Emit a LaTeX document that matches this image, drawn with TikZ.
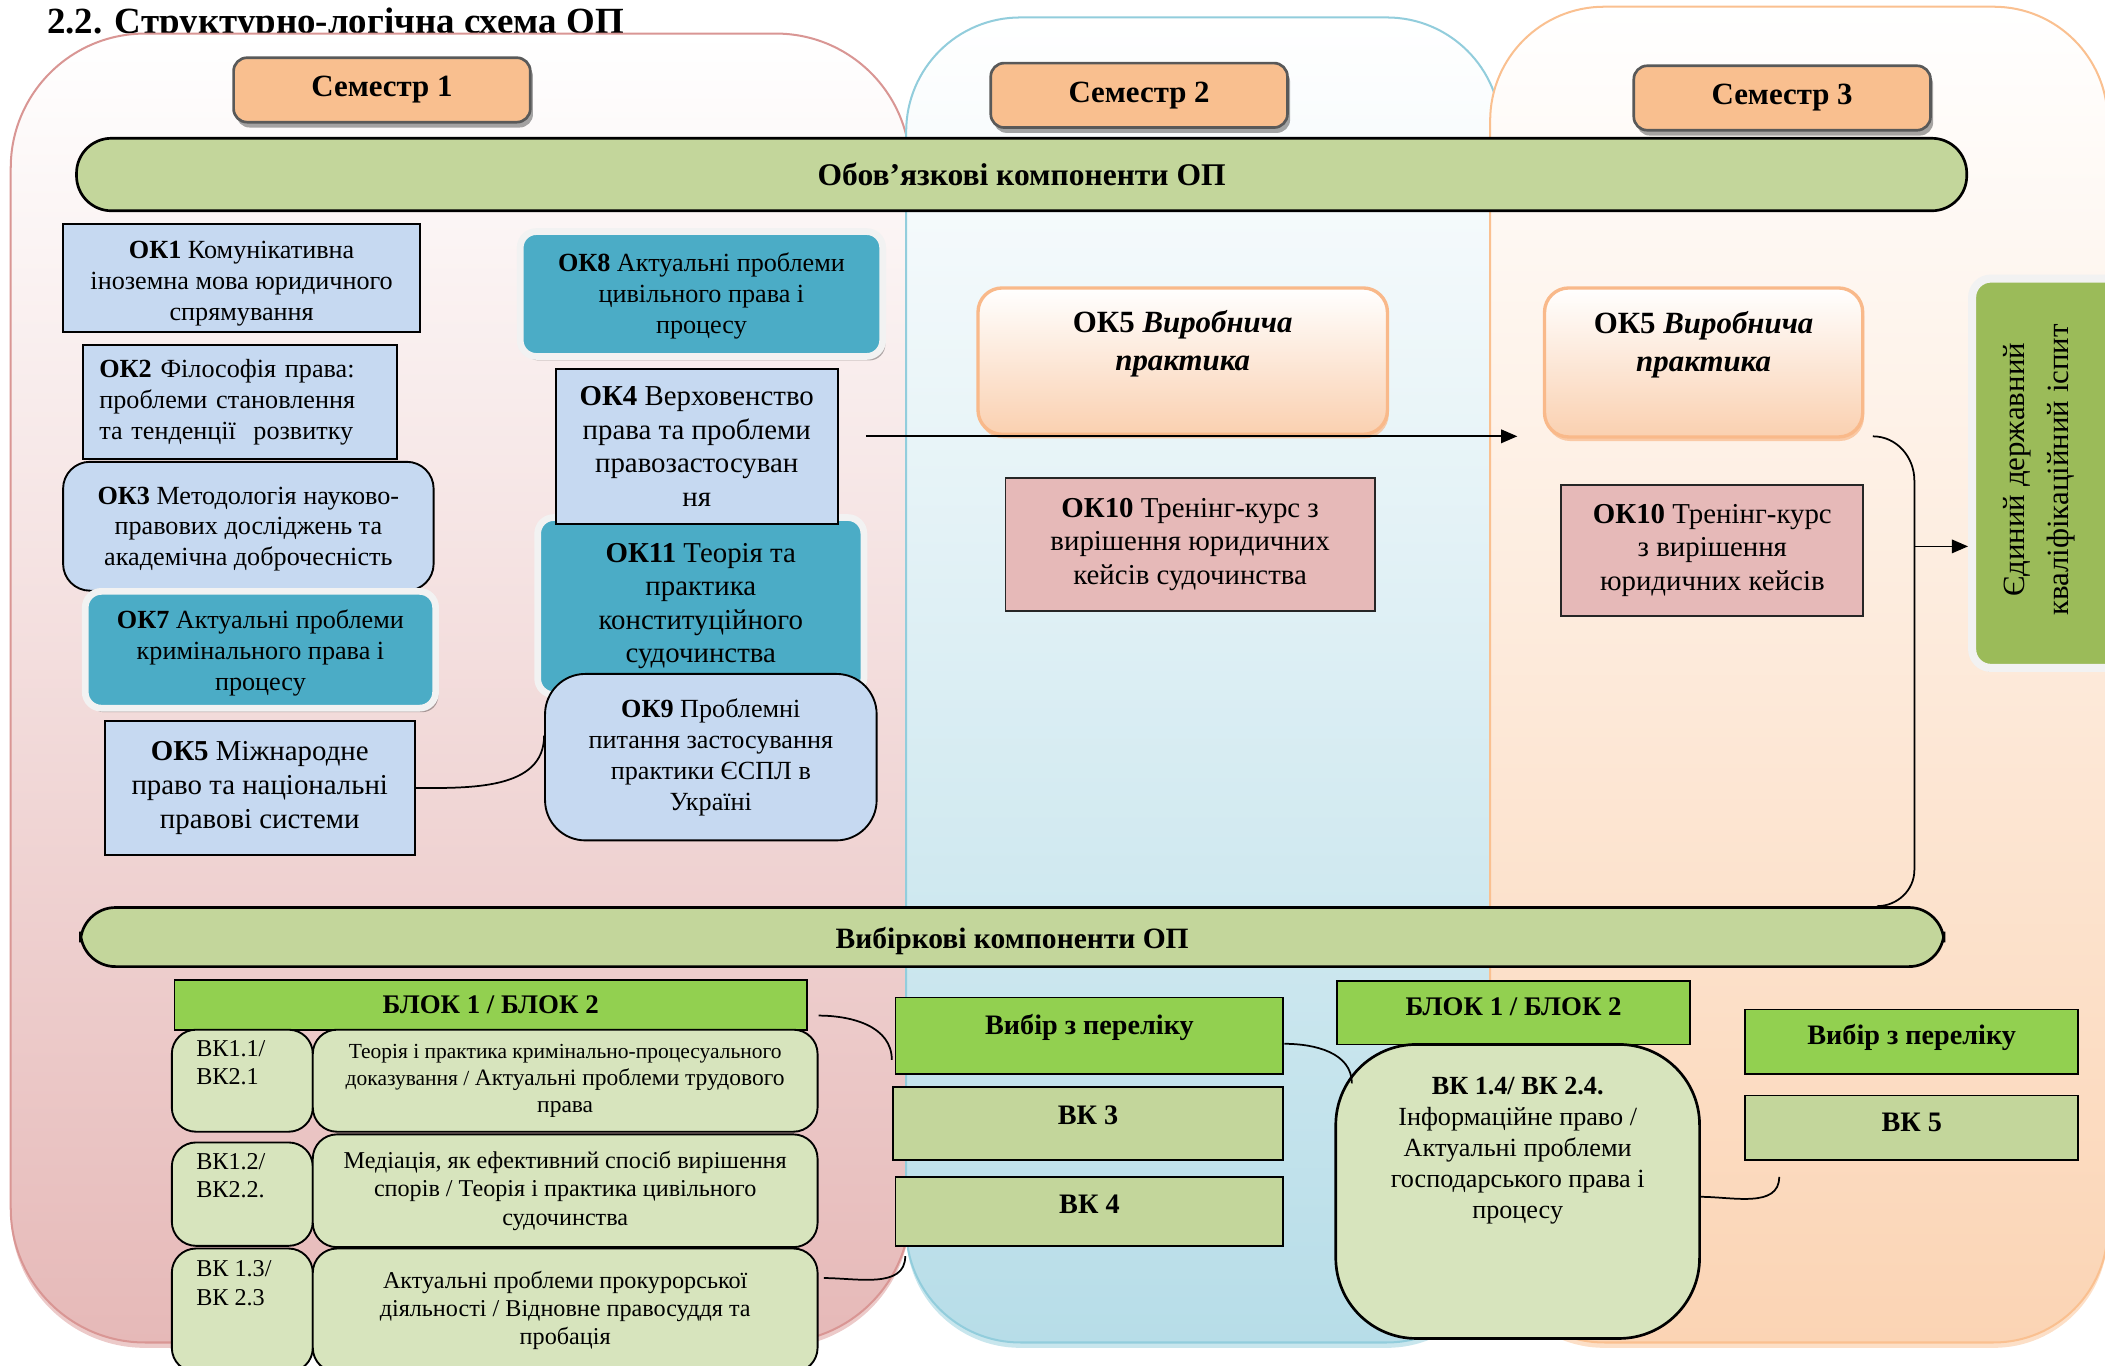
\documentclass[tikz,border=0pt]{standalone}
\usepackage{fontspec}
\setmainfont{Liberation Serif}
\usetikzlibrary{arrows.meta,shadows,calc}
\definecolor{pinkbot}{HTML}{E6B9B8}
\definecolor{pinkline}{HTML}{D99694}
\definecolor{bluebot}{HTML}{B7DDE8}
\definecolor{blueline}{HTML}{92CDDC}
\definecolor{orbot}{HTML}{FBD4B4}
\definecolor{orline}{HTML}{FAC090}
\definecolor{semfill}{HTML}{F9BF8F}
\definecolor{semline}{HTML}{595959}
\definecolor{okblue}{HTML}{C6D9F1}
\definecolor{tealc}{HTML}{4BACC6}
\definecolor{glow}{HTML}{F2F2F2}
\definecolor{okpink}{HTML}{E6B9B8}
\definecolor{barfill}{HTML}{C3D69B}
\definecolor{bgreen}{HTML}{92D050}
\definecolor{cellfill}{HTML}{D7E4BD}
\definecolor{examfill}{HTML}{9BBB59}
\definecolor{pracline}{HTML}{F9B98A}
\definecolor{pracbot}{HTML}{FAD0B0}
\begin{document}
\begin{tikzpicture}[x=1pt,y=-1pt,
  fA/.style={font=\fontsize{19.5}{23}\selectfont},
  fB/.style={font=\fontsize{21.5}{25}\selectfont},
  panel/.style={line width=1.5pt},
  sem/.style={rounded corners=10pt, fill=semfill, draw=semline, line width=2pt,
     minimum width=221pt, minimum height=48pt, inner sep=2pt,
     font=\bfseries\fontsize{23}{27}\selectfont,
     drop shadow={shadow xshift=2pt, shadow yshift=-4pt, fill=black, opacity=0.35}},
  bar/.style={rounded corners=26pt, fill=barfill, draw=black, line width=2pt, inner sep=2pt},
  okb/.style={draw=black, line width=1.4pt, fill=okblue, align=center, inner sep=2pt},
  okteal/.style={rounded corners=12pt, fill=tealc, draw=glow, line width=5pt, align=center, inner sep=2pt,
     drop shadow={shadow xshift=2pt, shadow yshift=-3pt, fill=black, opacity=0.3}},
  prac/.style={rounded corners=18pt, top color=white, bottom color=pracbot, draw=pracline, line width=2.5pt,
     drop shadow={shadow xshift=1pt, shadow yshift=-3pt, fill=pracline, opacity=0.7}},
  okp/.style={draw=black!85, line width=1.4pt, fill=okpink, align=center, inner sep=2pt, fB},
  exam/.style={rounded corners=14pt, fill=examfill, draw=glow, line width=6pt,
     drop shadow={shadow xshift=2pt, shadow yshift=-3pt, fill=black, opacity=0.3}},
  gbox/.style={draw=black, line width=1.4pt, fill=bgreen, inner sep=2pt, font=\bfseries\fontsize{21}{25}\selectfont},
  obox/.style={draw=black, line width=1.4pt, fill=barfill, inner sep=2pt, font=\bfseries\fontsize{21}{25}\selectfont},
  cell/.style={draw=black, line width=1.4pt, fill=cellfill, rounded corners=18pt, inner sep=2pt, align=center},
  ctext/.style={anchor=north west, align=left, inner sep=0pt, font=\fontsize{18}{21}\selectfont},
  conn/.style={draw=black, line width=1.3pt},
  arr/.style={conn, -{Triangle[length=12pt,width=10pt]}},
  txt/.style={align=center, inner sep=0pt}
]
\useasboundingbox (0,0) rectangle (1568,1017);

% title
\node[anchor=base west, inner sep=0pt, font=\bfseries\fontsize{27.5}{31}\selectfont] (title) at (35,25) {2.2. Структурно-логічна схема ОП};

% semester panels
\node[panel, rounded corners=100pt, top color=white, bottom color=pinkbot, draw=pinkline,
  minimum width=670pt, minimum height=975pt,
  drop shadow={shadow xshift=0pt, shadow yshift=-4pt, fill=pinkline}] (pan1) at (343,512.5) {};
\node[panel, rounded corners=85pt, top color=white, bottom color=bluebot, draw=blueline,
  minimum width=443pt, minimum height=987pt,
  drop shadow={shadow xshift=0pt, shadow yshift=-4pt, fill=blueline}] (pan2) at (896.5,506.5) {};
\node[panel, rounded corners=85pt, top color=white, bottom color=orbot, draw=orline,
  minimum width=460pt, minimum height=995pt,
  drop shadow={shadow xshift=0pt, shadow yshift=-4pt, fill=orline}] (pan3) at (1340,502.5) {};

% semester labels
\node[sem] (s1) at (284.5,67) {Семестр 1};
\node[sem] (s2) at (848.5,71) {Семестр 2};
\node[sem] (s3) at (1327.5,73) {Семестр 3};

% bars
\node[bar, minimum width=1408pt, minimum height=54pt, font=\bfseries\fontsize{23.5}{27}\selectfont] (obov) at (761,130) {Обов’язкові компоненти ОП};
\node[bar, minimum width=1388pt, minimum height=44pt, font=\bfseries\fontsize{22}{26}\selectfont] (vybk) at (754,698) {\rule{0pt}{21pt}Вибіркові компоненти ОП};

% semester 1, left column
\node[okb, fA, minimum width=266pt, minimum height=80pt] (ok1) at (180,207) {\rule{0pt}{22pt}\textbf{ОК1} Комунікативна\\іноземна мова юридичного\\спрямування};
\node[okb, fA, minimum width=234pt, minimum height=85pt, text width=210pt, align=left] (ok2) at (179,299.5) {\textbf{ОК2} Філософія права:\\проблеми становлення\\та тенденції\ \ розвитку};
\node[okb, fA, rounded corners=20pt, minimum width=276pt, minimum height=96pt] (ok3) at (185,392) {\rule{0pt}{17pt}\textbf{ОК3} Методологія науково-\\правових досліджень та\\академічна доброчесність};
\node[okteal, fA, minimum width=261pt, minimum height=87pt] (ok7) at (194,484) {\rule{0pt}{19pt}\textbf{ОК7} Актуальні проблеми\\кримінального права і\\процесу};
\node[okb, fB, minimum width=231pt, minimum height=100pt] (ok5m) at (193.5,587) {\textbf{ОК5} Міжнародне\\право та національні\\правові системи};

% semester 1, right column
\node[okteal, fA, minimum width=270pt, minimum height=93pt] (ok8) at (522.5,219) {\rule{0pt}{17pt}\textbf{ОК8} Актуальні проблеми\\цивільного права і\\процесу};
\node[okteal, fB, minimum width=243pt, minimum height=132pt] (ok11) at (522,451.5) {\textbf{ОК11} Теорія та\\практика\\конституційного\\судочинства};
\node[okb, fB, minimum width=210pt, minimum height=115pt] (ok4) at (519,332.5) {\textbf{ОК4} Верховенство\\права та проблеми\\правозастосуван\\ня};
\node[okb, fA, rounded corners=30pt, minimum width=247pt, minimum height=124pt] (ok9) at (529.5,564) {\textbf{ОК9} Проблемні\\питання застосування\\практики ЄСПЛ в\\Україні};

% semester 2
\node[prac, minimum width=305pt, minimum height=109pt] (p2) at (881,269) {};
\node[txt, font=\bfseries\fontsize{23}{28}\selectfont] (p2t) at (881,256) {ОК5 \textit{Виробнича}\\\textit{практика}};
\node[okp, minimum width=275pt, minimum height=99pt] (ok10a) at (886.5,405.5) {\textbf{ОК10} Тренінг-курс з\\вирішення юридичних\\кейсів судочинства};

% semester 3
\node[prac, minimum width=237pt, minimum height=111pt] (p3) at (1269,270) {};
\node[txt, font=\bfseries\fontsize{23}{28}\selectfont] (p3t) at (1269,257) {ОК5 \textit{Виробнича}\\\textit{практика}};
\node[okp, minimum width=225pt, minimum height=98pt] (ok10b) at (1275.5,410) {\textbf{ОК10} Тренінг-курс\\з вирішення\\юридичних кейсів};

% final exam
\node[exam, minimum width=118pt, minimum height=290pt] (exam) at (1528,352.5) {};
\node[txt, rotate=90, font=\fontsize{23}{33}\selectfont] (examt) at (1519,350) {Єдиний державний\\кваліфікаційний іспит};

% arrows of the upper part
\coordinate (a1) at (645,325);
\draw[arr] (a1) -- ($(p3.west |- a1)+(-19,0)$);
\coordinate (b1) at (1395,325);
\coordinate (b2) at (1426,407);
\draw[conn] (b1) to[out=0,in=90] (1426,358) -- (1426,648) to[out=-90,in=0] (vybk.north -| 1398,0);
\draw[arr] (b2) -- (exam.west |- b2);
\draw[conn] (ok5m.east) to[out=0,in=-90] ($(ok9.west)+(0,-16)$);

% elective part, semester 1
\node[gbox, minimum width=471pt, minimum height=37pt, font=\bfseries\fontsize{20}{24}\selectfont] (blok1) at (365.5,748.5) {БЛОК 1 / БЛОК 2};
\node[cell, minimum width=105pt, minimum height=76pt] (c11) at (180.5,805) {};
\node[cell, minimum width=376pt, minimum height=76pt, font=\fontsize{16}{20}\selectfont] (c12) at (421,805) {Теорія і практика кримінально-процесуального\\доказування / {\fontsize{17.5}{20}\selectfont Актуальні проблеми трудового}\\{\fontsize{17.5}{20}\selectfont права}};
\node[cell, minimum width=105pt, minimum height=77pt] (c21) at (180.5,889.5) {};
\node[cell, minimum width=376pt, minimum height=84pt, font=\fontsize{18}{21}\selectfont] (c22) at (421,887) {Медіація, як ефективний спосіб вирішення\\спорів / Теорія і практика цивільного\\судочинства};
\node[cell, minimum width=105pt, minimum height=92pt] (c31) at (180.5,976) {};
\node[cell, minimum width=376pt, minimum height=92pt, font=\fontsize{18}{21}\selectfont] (c32) at (421,976) {Актуальні проблеми прокурорської\\діяльності / Відновне правосуддя та\\пробація};
\node[ctext] (c11t) at (146,775) {ВК1.1/\\ВК2.1};
\node[ctext] (c21t) at (146,859) {ВК1.2/\\ВК2.2.};
\node[ctext] (c31t) at (146,939) {ВК 1.3/\\ВК 2.3};

% elective part, semester 2
\node[gbox, minimum width=289pt, minimum height=57pt] (vib2) at (811.5,771.5) {};
\node[txt, font=\bfseries\fontsize{21}{25}\selectfont] (vib2t) at (811.5,765) {Вибір з переліку};
\node[obox, minimum width=291pt, minimum height=54pt] (vk3) at (810.5,837) {};
\node[txt, font=\bfseries\fontsize{21}{25}\selectfont] (vk3t) at (810.5,831) {ВК 3};
\node[obox, minimum width=289pt, minimum height=51pt] (vk4) at (811.5,902.5) {};
\node[txt, font=\bfseries\fontsize{21}{25}\selectfont] (vk4t) at (811.5,897) {ВК 4};

% elective part, semester 3
\node[gbox, minimum width=263pt, minimum height=47pt] (blok2) at (1127.5,754.5) {};
\node[txt, font=\bfseries\fontsize{20}{24}\selectfont] (blok2t) at (1127.5,750) {БЛОК 1 / БЛОК 2};
\node[cell, rounded corners=60pt, line width=2pt, minimum width=271pt, minimum height=219pt] (vk14) at (1130.5,887.5) {};
\node[txt, font=\fontsize{19.5}{23}\selectfont] (vk14t) at (1130.5,857) {\textbf{ВК 1.4/ ВК 2.4.}\\Інформаційне право /\\Актуальні проблеми\\господарського права і\\процесу};
\node[gbox, minimum width=248pt, minimum height=48pt] (vib3) at (1424,776) {};
\node[txt, font=\bfseries\fontsize{21}{25}\selectfont] (vib3t) at (1424,773) {Вибір з переліку};
\node[obox, minimum width=248pt, minimum height=48pt] (vk5) at (1424,840) {};
\node[txt, font=\bfseries\fontsize{21}{25}\selectfont] (vk5t) at (1424,836) {ВК 5};

% elective connectors
\draw[conn] ($(blok1.east)+(8,8)$) to[out=0,in=90] ($(vib2.west)+(-2,18)$);
\draw[conn] ($(c32.east)+(4,-24)$) to[out=0,in=-90] ($(vk4.south west)+(8,7)$);
\draw[conn] ($(vib2.east)+(0,6)$) to[out=0,in=90] ($(vk14.north west)+(13,30)$);
\draw[conn] ($(vk14.east)+(0,4)$) to[out=0,in=-90] ($(vk5.south west)+(26,12)$);
\end{tikzpicture}
\end{document}
